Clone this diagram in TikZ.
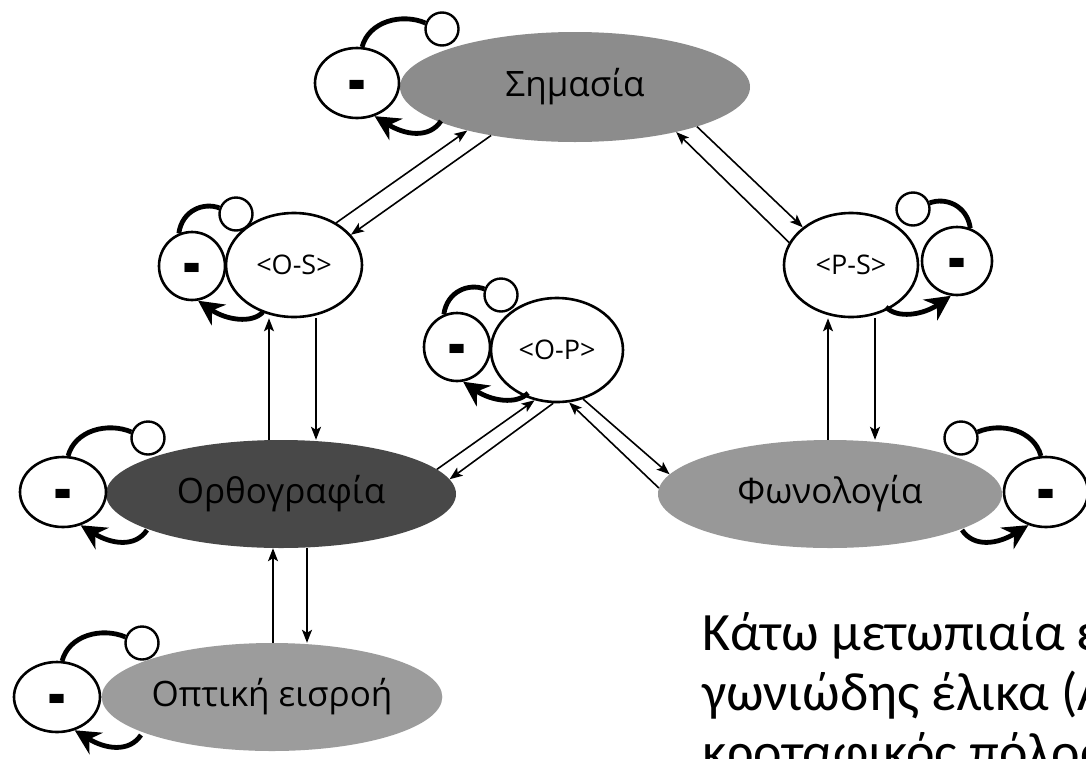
\documentclass[tikz,border=0pt]{standalone}
\usepackage{fontspec}
\setmainfont{Open Sans}
\newfontfamily\calib{Carlito}
\newfontfamily\dejab{DejaVu Sans}
\usepackage{graphicx}
\usetikzlibrary{shapes.geometric,arrows.meta}
\definecolor{gsem}{HTML}{8C8C8C}
\definecolor{gorth}{HTML}{484848}
\definecolor{gphon}{HTML}{989898}
\definecolor{gopt}{HTML}{9C9C9C}
\newcommand\fbdash{\raisebox{-20pt}[0pt][0pt]{\scalebox{1}[1.4]{\dejab\bfseries\fontsize{46}{46}\selectfont -}}}
\tikzset{
  minus/.style={draw, line width=2.6pt, ellipse, fill=white, inner sep=0pt},
  knob/.style={draw, line width=2.4pt, circle, fill=white, minimum size=33pt, inner sep=0pt},
  loopline/.style={line width=4.8pt},
  looparrow/.style={line width=4.8pt, -{Stealth[length=25pt,width=25pt,inset=8pt]}},
  conn/.style={line width=1.6pt, -{Stealth[length=13pt,width=10pt,inset=3pt]}},
  bigell/.style={ellipse, inner sep=0pt, font=\fontsize{35}{35}\selectfont},
  midell/.style={ellipse, draw, line width=2.6pt, fill=white, inner sep=0pt, font=\fontsize{27}{27}\selectfont},
  note/.style={anchor=base west, inner sep=0pt, font=\calib\fontsize{54}{60}\selectfont},
  pics/fbbig/.style n args={2}{code={%
    \pgfmathsetmacro\aS{90-#1*8}%
    \pgfmathsetmacro\aE{90+#1*70}%
    \pgfmathsetmacro\aT{-90+#1*28}%
    \node[minus, minimum width=#2pt, minimum height=70pt] (-m) at (0,0) {\fbdash};
    \node[knob] (-c) at (#1*85,-54) {};
    \draw[loopline] (-m.\aS) .. controls (#1*12,-62) and (#1*45,-70) .. (-c.\aE);
    \coordinate (-s) at (#1*84,38);
    \draw[looparrow] (-s) .. controls (#1*72,56) and (#1*48,52) .. (-m.\aT);
  }},
  pics/fbsmall/.style n args={2}{code={%
    \pgfmathsetmacro\aS{90+#1*22}%
    \pgfmathsetmacro\aE{90+#1*70}%
    \pgfmathsetmacro\aT{-90+#1*10}%
    \node[minus, minimum width=#2pt, minimum height=68pt] (-m) at (0,0) {\fbdash};
    \node[knob] (-c) at (#1*44,-52) {};
    \draw[loopline] (-m.\aS) .. controls (#1*-10,-56) and (#1*12,-64) .. (-c.\aE);
    \coordinate (-s) at (#1*71,46);
    \draw[looparrow] (-s) .. controls (#1*60,58) and (#1*34,54) .. (-m.\aT);
  }},
}
\begin{document}
\begin{tikzpicture}[x=1pt,y=-1pt]
\useasboundingbox (0,0) rectangle (1086,758);
\clip (0,0) rectangle (1086,758);
\fill[white] (0,0) rectangle (1086,758);

% main nodes
\node[bigell, fill=gsem, minimum width=350pt, minimum height=110pt] (sem) at (575,87) {Σημασία};
\node[midell, minimum width=136pt, minimum height=104pt] (os) at (294,265) {<O-S>};
\node[midell, minimum width=134pt, minimum height=104pt] (ps) at (851,265) {<P-S>};
\node[midell, minimum width=132pt, minimum height=104pt] (op) at (557,350) {<O-P>};
\node[bigell, fill=gorth, minimum width=350pt, minimum height=108pt] (orth) at (281,494) {Ορθογραφία};
\node[bigell, fill=gphon, minimum width=344pt, minimum height=108pt] (phon) at (830,494) {Φωνολογία};
\node[bigell, fill=gopt, minimum width=336pt, minimum height=108pt] (opt) at (272,697) {Οπτική εισροή};

% feedback loops
\pic (lsem) at (357,83) {fbbig={1}{84}};
\pic (lorth) at (63,492) {fbbig={1}{86}};
\pic (lopt) at (57,697) {fbbig={1}{86}};
\pic (lphon) at (1046,492) {fbbig={-1}{84}};
\pic (los) at (192,266) {fbsmall={1}{66}};
\pic (lop) at (457,347) {fbsmall={1}{66}};
\pic (lps) at (957,261) {fbsmall={-1}{70}};

% connectors
\draw[conn] (os.45) -- (sem.202);
\draw[conn] (sem.210) -- (os.28);
\draw[conn] (ps.160) -- (sem.336);
\draw[conn] (sem.342) -- (ps.142);
\draw[conn] ([xshift=-12pt]orth.north) -- ([xshift=-25pt]os.south);
\draw[conn] ([xshift=22pt]os.south) -- ([xshift=35pt]orth.north);
\draw[conn] ([xshift=-2pt]phon.north) -- ([xshift=-23pt]ps.south);
\draw[conn] ([xshift=24pt]ps.south) -- ([xshift=45pt]phon.north);
\draw[conn] (orth.9) -- (op.246);
\draw[conn] (op.266) -- (orth.5);
\draw[conn] (phon.178) -- (op.283);
\draw[conn] (op.298) -- (phon.173);
\draw[conn] ([xshift=1pt]opt.north) -- ([xshift=-8pt]orth.south);
\draw[conn] ([xshift=26pt]orth.south) -- ([xshift=35pt]opt.north);

% note text
\node[note] (t1) at (702,650) {Κάτω μετωπιαία έλικα,};
\node[note] (t2) at (702,710) {γωνιώδης έλικα (Α};
\node[note] (t3) at (702,770) {κροταφικός πόλος};
\end{tikzpicture}
\end{document}
